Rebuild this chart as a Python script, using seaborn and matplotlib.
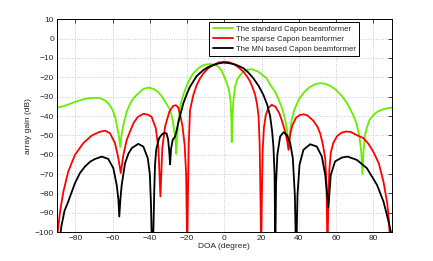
import numpy as np
import pandas as pd
import matplotlib
matplotlib.use('Agg')
import matplotlib.pyplot as plt
import seaborn as sns

# standard Capon beamformer (green)
doa_std = [-90, -86, -82, -78, -74, -70, -67, -64, -62, -60,
           -58.5, -57.5, -56.5, -55.9, -55.2, -54.2, -52.4, -50.5, -48.8, -46,
           -43.5, -40.8, -38, -35.4, -33.5, -31.8, -29.1, -27.8, -26.8, -26.1,
           -25.8, -25.3, -24.6, -23.7, -22, -20.1, -18.3, -16.6, -14.3, -12.1,
           -10, -7.6, -5.3, -3.2, -1.5, 0.4, 1.7, 2.7, 3.4, 3.8,
           4.0, 4.3, 4.8, 5.8, 7, 8.5, 11.2, 14.8, 18.3, 22.8,
           24.6, 27.3, 29, 31, 32.5, 33.5, 34.2, 34.6, 35.1, 36,
           37.5, 40, 43, 46, 49, 51.5, 54, 57, 60, 63,
           66, 69, 71, 72.5, 73.5, 74.2, 74.8, 75.5, 76.6, 78,
           80.1, 82.5, 85.5, 88, 90]
gain_std = [-35.8, -34.8, -33.4, -32.0, -31.0, -30.6, -30.7, -32.0, -33.8, -36.8,
            -41, -46, -51, -56, -50, -44.6, -37.7, -33.5, -30.8, -28.2,
            -26.0, -25.3, -26.0, -27.7, -30.0, -32.6, -36.8, -42, -48, -54,
            -59.5, -50, -42, -35.1, -29, -24.0, -20.5, -17.9, -15.6, -14.1,
            -13.4, -13.1, -13.5, -14.5, -16.5, -20.5, -24, -27.4, -33, -42,
            -53.5, -42, -33, -24.8, -21, -18.8, -16.2, -15.8, -17.1, -20.5,
            -23.8, -27.4, -31, -36, -41, -46, -52, -57, -50, -43,
            -37, -31.5, -27.5, -25, -23.5, -23.0, -23.3, -24.5, -26.5, -29.5,
            -33.5, -39, -44, -50, -58, -70, -58, -50, -46, -42,
            -39.4, -37.6, -36.5, -35.9, -35.6]

# sparse Capon beamformer (red)
doa_sp = [-90, -89.5, -88.2, -86.4, -83.8, -80.2, -75.7, -71.2, -66.7, -64,
          -61.4, -58.7, -56.9, -55.6, -54.2, -52.4, -48.8, -46.5, -43.5, -41,
          -39, -36.8, -35.4, -34.3, -33.3, -31.8, -29.5, -27.5, -26, -24.8,
          -23.7, -22.5, -21.3, -20.5, -19.9, -19.5, -19.1, -18.4, -16.6, -14.8,
          -13, -11.2, -8.5, -5.8, -3, 0, 2.5, 5, 7.5, 10.3,
          12.2, 13.9, 15.3, 16.6, 17.6, 18.4, 19, 19.4, 19.8, 20.2,
          20.6, 21.3, 22.3, 23.7, 25.5, 27.5, 29.5, 31, 32.5, 33.7,
          34.5, 35.3, 36.5, 38.5, 40.5, 42.5, 44.5, 47.9, 50, 51.5,
          53, 54.2, 54.9, 55.4, 55.9, 56.4, 57.2, 58.5, 60.5, 63,
          65.5, 68, 71, 74.8, 77.5, 80, 83, 85.5, 87.5, 88.5,
          89.2, 90]
gain_sp = [-118, -100, -89.4, -79, -68.7, -60.1, -54, -50.1, -48.1, -47.6,
           -48.9, -54, -61.8, -69.5, -60.1, -52.3, -43.7, -40.5, -38.9, -39.3,
           -40.5, -46.3, -56.6, -81.6, -56.6, -45.5, -37.7, -34.8, -34.4, -35.5,
           -39.4, -45, -55, -70, -110, -80, -55, -37, -29, -24,
           -20.5, -17.9, -15.2, -13.6, -12.3, -11.9, -12.2, -13.1, -14.8, -17.1,
           -19.5, -22.2, -25.5, -29.1, -34, -40, -55, -80, -110, -80,
           -58, -46, -39.5, -35.8, -34.2, -35.2, -38.5, -42.5, -47.5, -52.5,
           -57.5, -50, -45, -41, -39.5, -39.1, -39.6, -42.5, -45.5, -49,
           -55, -62, -75, -110, -85, -68, -59, -54, -50.5, -48.6,
           -48, -48.3, -49.8, -51.5, -54.5, -58.4, -64.5, -74, -85, -95,
           -110, -125]

# MN based Capon beamformer (black)
doa_mn = [-90, -88.5, -87.5, -85.8, -83.8, -80.2, -77.5, -74.8, -72, -69.4,
          -65.8, -62.3, -59.6, -57.8, -56.9, -56.4, -55.8, -55.1, -53.3, -51.5,
          -49.7, -46.2, -43.5, -41.1, -40, -39.4, -38.9, -38.5, -38.1, -37.6,
          -37.2, -36.5, -35, -33.5, -32.3, -31, -30.2, -29.6, -29.1, -28.6,
          -27.7, -26.4, -25.5, -24.6, -22, -20, -18.4, -14.8, -11.2, -8.5,
          -5.8, -3, -0.5, 2, 4.9, 7.5, 10.3, 13, 15.6, 18.5,
          21, 23, 24.6, 25.7, 26.4, 27, 27.4, 27.8, 28.5, 30,
          31.8, 33.6, 35.4, 36.8, 37.9, 38.6, 39.3, 40.4, 42.5, 46.1,
          49.7, 52.4, 54.2, 55.9, 57.2, 59.5, 63.1, 66.2, 71.2, 76.6,
          82, 85.5, 88.2, 89.5, 90]
gain_mn = [-125, -105, -97, -89, -84.2, -74.7, -69.5, -66.1, -63.6, -62.2,
           -61, -62.2, -67, -75.6, -83, -92, -83, -75.6, -64.4, -59.5,
           -56.6, -54.4, -55.8, -61.8, -70, -85, -105, -115, -100, -78,
           -65, -57, -51.5, -49.5, -48.8, -49, -52, -58, -65, -57,
           -52.3, -50.6, -47, -43, -33.4, -28.3, -24.8, -19.3, -16.2, -14.6,
           -13.6, -12.8, -12.4, -12.6, -13.1, -14.0, -15.3, -17.6, -20.5, -24.5,
           -29.1, -34, -40, -48, -56, -70, -110, -75, -60, -50.6,
           -48.4, -49.8, -54, -61.8, -81, -115, -81, -65.3, -57.5, -54.6,
           -55.8, -61, -70.4, -87.3, -70.4, -63.5, -61.5, -61, -62.7, -67,
           -75.6, -84.2, -94.5, -100, -104]

labels = ['The standard Capon beamformer', 'The sparse Capon beamformer',
          'The MN based Capon beamformer']
colors = ['#66ee00', '#ff0000', '#000000']

df = pd.concat([
    pd.DataFrame({'DOA': doa_std, 'gain': gain_std, 'method': labels[0]}),
    pd.DataFrame({'DOA': doa_sp, 'gain': gain_sp, 'method': labels[1]}),
    pd.DataFrame({'DOA': doa_mn, 'gain': gain_mn, 'method': labels[2]}),
])

sns.set_style('white')
plt.rcParams['font.family'] = ['Liberation Sans', 'DejaVu Sans']
plt.rcParams['axes.unicode_minus'] = True

fig = plt.figure(figsize=(4.33, 2.61), dpi=100)
ax = fig.add_axes([0.131, 0.111, 0.774, 0.815])
sns.lineplot(data=df, x='DOA', y='gain', hue='method', palette=colors,
             sort=False, estimator=None, linewidth=1.3, ax=ax)

ax.set_xlim(-90, 90)
ax.set_ylim(-100, 10)
ax.set_xticks(range(-80, 81, 20))
ax.set_yticks(range(-100, 11, 10))
ax.grid(True, linestyle=(0, (1, 2.5)), color='0.6', linewidth=0.5)
ax.tick_params(direction='in', top=True, right=True, length=3, width=0.6,
               labelsize=6, pad=2)
for s in ax.spines.values():
    s.set_linewidth(0.7)
    s.set_color('black')
ax.set_xlabel('DOA (degree)', fontsize=6, labelpad=1)
ax.set_ylabel('array gain (dB)', fontsize=6, labelpad=2)

leg = ax.legend(loc='upper right', bbox_to_anchor=(359 / 433, 1 - 22.3 / 261),
                bbox_transform=fig.transFigure, borderaxespad=0, fontsize=5.6,
                fancybox=False, framealpha=1, edgecolor='black',
                handlelength=2.6, labelspacing=0.35, borderpad=0.4,
                handletextpad=0.4)
leg.get_frame().set_linewidth(0.7)

fig.savefig('out.png', dpi=100)
